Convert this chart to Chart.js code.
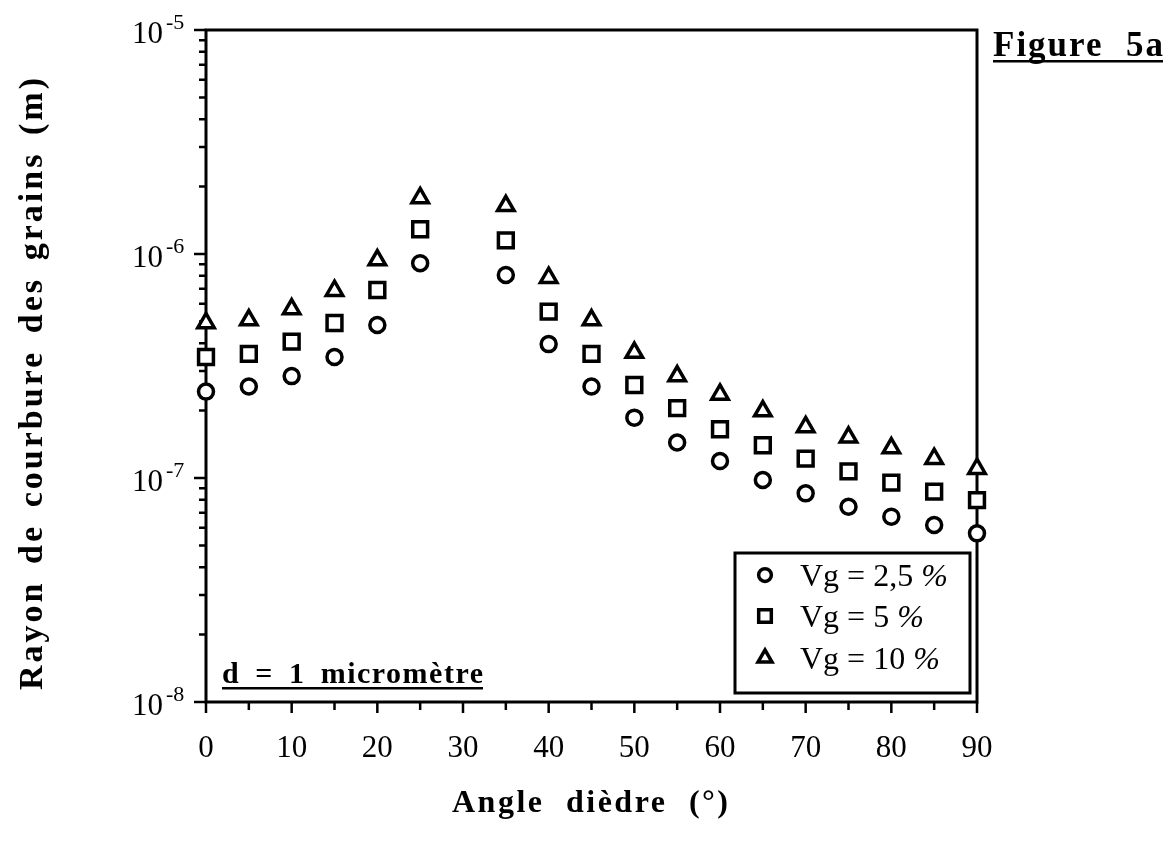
<!DOCTYPE html>
<html>
<head>
<meta charset="utf-8">
<script src="https://cdn.jsdelivr.net/npm/chart.js@4.4.0/dist/chart.umd.min.js"></script>
<style>
  html, body { margin: 0; padding: 0; background: #fff; }
  #wrap { width: 1169px; height: 845px; }
</style>
</head>
<body>
<div id="wrap"><canvas id="rayon"></canvas></div>
<script>
// angle dièdre (°) — pas de mesure à 30°
const angles = [0, 5, 10, 15, 20, 25, 35, 40, 45, 50, 55, 60, 65, 70, 75, 80, 85, 90]

// rayon de courbure (m) pour chaque fraction volumique
const vg25 = [2.43e-7, 2.56e-7, 2.85e-7, 3.47e-7, 4.82e-7, 9.1e-7, 8.06e-7, 3.96e-7, 2.56e-7,
              1.86e-7, 1.44e-7, 1.19e-7, 9.8e-8, 8.54e-8, 7.44e-8, 6.72e-8, 6.17e-8, 5.66e-8]
const vg5  = [3.47e-7, 3.58e-7, 4.06e-7, 4.92e-7, 6.91e-7, 1.29e-6, 1.15e-6, 5.53e-7, 3.58e-7,
              2.6e-7, 2.05e-7, 1.65e-7, 1.4e-7, 1.22e-7, 1.07e-7, 9.53e-8, 8.69e-8, 7.97e-8]
const vg10 = [4.92e-7, 5.07e-7, 5.68e-7, 6.86e-7, 9.4e-7, 1.78e-6, 1.64e-6, 7.84e-7, 5.07e-7,
              3.63e-7, 2.85e-7, 2.36e-7, 1.99e-7, 1.69e-7, 1.52e-7, 1.36e-7, 1.22e-7, 1.1e-7]

const seriesLabels = ['Vg = 2,5 ', 'Vg = 5 ', 'Vg = 10 ']
const xTicks = [0, 10, 20, 30, 40, 50, 60, 70, 80, 90]
const yDecades = [-8, -7, -6, -5]

const SERIF = '"Liberation Serif", "DejaVu Serif", serif'

const pts = (ys) => angles.map((a, i) => ({ x: a, y: ys[i] }))

const styles = [
  { pointStyle: 'circle', radius: 7.5 },
  { pointStyle: 'rect', radius: 10.5 },
  { pointStyle: 'triangle', radius: 9.5 }
]

// texte gras : lettres espacées de ls, mots répartis sur la largeur voulue
function boldText(ctx, txt, x, y, size, width, ls, underline) {
  ctx.save()
  ctx.font = 'bold ' + size + 'px ' + SERIF
  ctx.letterSpacing = ls + 'px'
  ctx.fillStyle = '#000'
  ctx.textBaseline = 'alphabetic'
  ctx.textAlign = 'left'
  const words = txt.split(' ')
  const ws = words.map(w => ctx.measureText(w).width - ls)
  const total = ws.reduce((s, w) => s + w, 0)
  const gap = words.length > 1 ? (width - total) / (words.length - 1) : 0
  let cx = x
  words.forEach((w, i) => {
    ctx.fillText(w, cx, y)
    cx += ws[i] + gap
  })
  if (underline) ctx.fillRect(x, y + 4, width, 2.5)
  ctx.restore()
}

const decor = {
  id: 'decor',
  beforeDatasetsDraw(chart) {
    const ctx = chart.ctx
    const a = chart.chartArea
    const xs = chart.scales.x
    const ys = chart.scales.y
    ctx.save()
    ctx.strokeStyle = '#000'
    ctx.lineWidth = 3
    ctx.strokeRect(a.left, a.top, a.right - a.left, a.bottom - a.top)

    // graduations vers l'extérieur
    ctx.lineWidth = 2.5
    ctx.beginPath()
    for (const e of yDecades) {
      for (let m = 1; m <= 9; m++) {
        const v = m * Math.pow(10, e)
        if (v > 1.0001e-5) break
        const py = ys.getPixelForValue(v)
        const len = m === 1 ? 12 : 7
        ctx.moveTo(a.left - len, py)
        ctx.lineTo(a.left, py)
      }
    }
    for (let v = 0; v <= 90; v += 5) {
      const px = xs.getPixelForValue(v)
      const len = v % 10 === 0 ? 11 : 8
      ctx.moveTo(px, a.bottom)
      ctx.lineTo(px, a.bottom + len)
    }
    ctx.stroke()

    // étiquettes 10^n
    ctx.fillStyle = '#000'
    for (const e of yDecades) {
      const py = ys.getPixelForValue(Math.pow(10, e))
      ctx.font = '31px ' + SERIF
      ctx.textAlign = 'right'
      ctx.textBaseline = 'middle'
      ctx.fillText('10', a.left - 43, py + 5)
      ctx.font = '22px ' + SERIF
      ctx.textAlign = 'left'
      ctx.fillText(String(e), a.left - 40, py - 7)
    }
    ctx.restore()
  },
  afterDraw(chart) {
    const ctx = chart.ctx

    // titres des axes
    boldText(ctx, 'Angle dièdre (°)', 452, 812, 32, 276, 2.5, false)
    ctx.save()
    ctx.translate(42, 690)
    ctx.rotate(-Math.PI / 2)
    boldText(ctx, 'Rayon de courbure des grains (m)', 0, 0, 34, 612, 3, false)
    ctx.restore()

    boldText(ctx, 'Figure 5a', 993, 56, 35, 170, 2, true)
    boldText(ctx, 'd = 1 micromètre', 222, 683, 30, 261, 1.5, true)

    // légende encadrée
    ctx.save()
    ctx.strokeStyle = '#000'
    ctx.lineWidth = 3
    ctx.strokeRect(735, 553, 235, 140)
    const rows = [575, 616, 658]
    chart.data.datasets.forEach((ds, i) => {
      const s = styles[i]
      ctx.lineWidth = 3.5
      ctx.strokeStyle = '#000'
      ctx.fillStyle = '#fff'
      Chart.helpers.drawPoint(ctx, { pointStyle: s.pointStyle, radius: s.radius * 0.85, rotation: 0, borderWidth: 3.5 }, 765, rows[i])
      ctx.fillStyle = '#000'
      ctx.textBaseline = 'alphabetic'
      ctx.textAlign = 'left'
      ctx.font = '32px ' + SERIF
      ctx.fillText(seriesLabels[i], 800, rows[i] + 11)
      const w = ctx.measureText(seriesLabels[i]).width
      ctx.font = 'italic 32px ' + SERIF
      ctx.fillText('%', 800 + w, rows[i] + 11)
    })
    ctx.restore()
  }
}

const rayon = new Chart(
  document.getElementById('rayon'),
  {
    type: 'scatter',
    data: {
      datasets: [vg25, vg5, vg10].map((ys, i) => ({
        label: seriesLabels[i] + '%',
        data: pts(ys),
        pointStyle: styles[i].pointStyle,
        pointRadius: styles[i].radius,
        pointBorderWidth: 3.5,
        pointBorderColor: '#000',
        pointBackgroundColor: '#fff',
        showLine: false,
        clip: false
      }))
    },
    options: {
      responsive: true,
      maintainAspectRatio: false,
      animation: false,
      events: [],
      layout: { padding: { left: 0, top: 30, right: 192, bottom: 0 } },
      plugins: { legend: { display: false }, tooltip: { enabled: false } },
      scales: {
        x: {
          type: 'linear',
          min: 0,
          max: 90,
          afterFit: (s) => { s.height = 143 },
          afterBuildTicks: (s) => { s.ticks = xTicks.map(v => ({ value: v })) },
          grid: { display: false, drawTicks: false },
          border: { display: false },
          ticks: {
            color: '#000',
            padding: 28,
            maxRotation: 0,
            font: { family: SERIF, size: 31 }
          }
        },
        y: {
          type: 'logarithmic',
          min: 1e-8,
          max: 1e-5,
          afterFit: (s) => { s.width = 206 },
          grid: { display: false, drawTicks: false },
          border: { display: false },
          ticks: { display: false }
        }
      }
    },
    plugins: [decor]
  }
)
</script>
</body>
</html>
